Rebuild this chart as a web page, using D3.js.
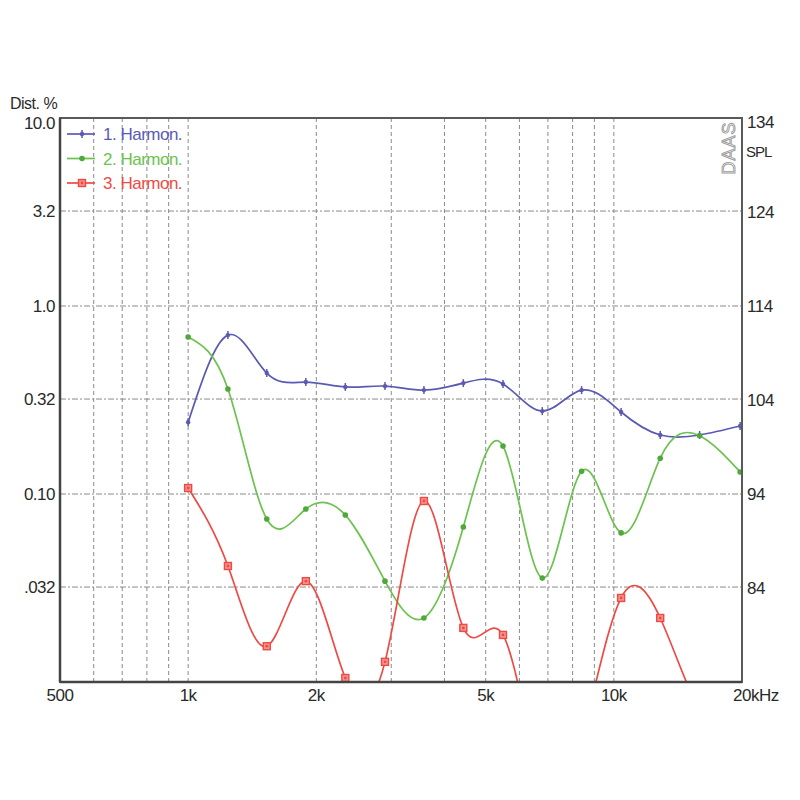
<!DOCTYPE html>
<html><head><meta charset="utf-8">
<script src="https://cdn.jsdelivr.net/npm/d3@7"></script>
<style>body{margin:0;background:#fff}svg{display:block}text{font-family:"Liberation Sans",Arial,sans-serif}</style>
</head><body>
<svg id="c" width="800" height="800"></svg>
<script>
const freqs = [1000, 1240, 1530, 1890, 2340, 2900, 3580, 4430, 5490, 6790, 8400, 10400, 12850, 15900, 19800];
const harm1 = [0.241, 0.70, 0.44, 0.394, 0.371, 0.375, 0.357, 0.389, 0.385, 0.276, 0.357, 0.273, 0.206, 0.206, 0.230];
const harm2 = [0.684, 0.362, 0.0736, 0.0832, 0.0773, 0.0344, 0.0219, 0.0667, 0.180, 0.0357, 0.132, 0.0621, 0.155, 0.204, 0.131];
const harm3 = [0.1076, 0.0414, 0.0155, 0.0344, 0.0105, 0.0128, 0.0918, 0.0194, 0.0178, 0.003, 0.005, 0.0280, 0.0219, 0.007, 0.004];
const seriesNames = ["1. Harmon.", "2. Harmon.", "3. Harmon."];
const seriesColors = ["#5a5ab4", "#6cc24e", "#ee4a44"];
const yTicks = [10, 3.2, 1.0, 0.32, 0.10, 0.032];
const yTickLabels = ["10.0", "3.2", "1.0", "0.32", "0.10", ".032"];
const splTicks = [134, 124, 114, 104, 94, 84];
const xLabelVals = [500, 1000, 2000, 5000, 10000, 20000];
const xLabels = ["500", "1k", "2k", "5k", "10k", "20kHz"];
const xGrid = [600, 700, 800, 900, 1000, 2000, 3000, 4000, 5000, 6000, 7000, 8000, 9000, 10000];

const L = 60, R = 742, T = 118, B = 682;
const FS = 17;
const svg = d3.select("#c");
const x = d3.scaleLog().domain([500, 20000]).range([L, R]);
const y = d3.scaleLog().domain([0.01, 10]).range([B, T]);
const ySpl = d3.scaleLinear().domain([74, 134]).range([B, T]);

// grid
const g = svg.append("g");
g.selectAll(".vg").data(xGrid).join("line")
  .attr("x1", d => x(d)).attr("x2", d => x(d)).attr("y1", T).attr("y2", B)
  .attr("stroke", "#8a8a8a").attr("stroke-width", 1).attr("stroke-dasharray", "4,3");
g.selectAll(".hg").data(yTicks.slice(1)).join("line")
  .attr("x1", L).attr("x2", R).attr("y1", d => y(d)).attr("y2", d => y(d))
  .attr("stroke", "#8a8a8a").attr("stroke-width", 1).attr("stroke-dasharray", "6,2,2,2");

// DAAS watermark
svg.append("text").attr("transform", `translate(735,${T + 30}) rotate(-90)`)
  .attr("text-anchor", "middle").attr("font-size", 18).attr("fill", "#fff")
  .attr("stroke", "#999").attr("stroke-width", 0.9).attr("letter-spacing", 1).text("DAAS");

// clip
svg.append("clipPath").attr("id", "pc").append("rect").attr("x", L).attr("y", T).attr("width", R - L).attr("height", B - T);

const data = [harm1, harm2, harm3];
const line = d3.line().x(d => x(d[0])).y(d => y(d[1])).curve(d3.curveNatural);
const plot = svg.append("g").attr("clip-path", "url(#pc)");

function marker(sel, i, cx, cy) {
  const c = seriesColors[i];
  if (i === 0) {
    sel.append("line").attr("x1", cx).attr("x2", cx).attr("y1", cy - 4).attr("y2", cy + 4).attr("stroke", c).attr("stroke-width", 1.5);
    sel.append("circle").attr("cx", cx).attr("cy", cy).attr("r", 2.2).attr("fill", c);
  } else if (i === 1) {
    sel.append("circle").attr("cx", cx).attr("cy", cy).attr("r", 2.8).attr("fill", "#4fa83a");
  } else {
    sel.append("rect").attr("x", cx - 3.5).attr("y", cy - 3.5).attr("width", 7).attr("height", 7)
      .attr("fill", "#f4948e").attr("stroke", c).attr("stroke-width", 1.4);
    sel.append("circle").attr("cx", cx).attr("cy", cy).attr("r", 1.4).attr("fill", c);
  }
}

data.forEach((vals, i) => {
  const pts = freqs.map((f, k) => [f, vals[k]]);
  plot.append("path").attr("d", line(pts)).attr("fill", "none")
    .attr("stroke", seriesColors[i]).attr("stroke-width", 1.7);
  const mg = plot.append("g");
  pts.forEach(p => marker(mg, i, x(p[0]), y(p[1])));
});

// frame
svg.append("rect").attr("x", L).attr("y", T).attr("width", R - L).attr("height", B - T)
  .attr("fill", "none").attr("stroke", "#5a5a5a").attr("stroke-width", 2);
svg.append("line").attr("x1", L).attr("x2", R).attr("y1", B).attr("y2", B).attr("stroke", "#444").attr("stroke-width", 2.5);
svg.append("line").attr("x1", L).attr("x2", L).attr("y1", T).attr("y2", B).attr("stroke", "#444").attr("stroke-width", 2.5);

// left labels
svg.selectAll(".yl").data(yTicks).join("text")
  .attr("x", 55).attr("y", d => Math.max(y(d), 123) + 6).attr("text-anchor", "end")
  .attr("font-size", FS).attr("fill", "#2a2a2a").attr("letter-spacing", -0.5).text((d, k) => yTickLabels[k]);
svg.append("text").attr("x", 10).attr("y", 109).attr("font-size", FS - 1).attr("fill", "#2a2a2a")
  .attr("letter-spacing", -0.5).text("Dist. %");

// right labels
svg.selectAll(".yr").data(splTicks).join("text")
  .attr("x", 747).attr("y", d => Math.max(ySpl(d), 122) + 6).attr("font-size", FS).attr("fill", "#2a2a2a")
  .attr("letter-spacing", -0.5).text(d => d);
svg.append("text").attr("x", 746).attr("y", 157).attr("font-size", 15).attr("fill", "#2a2a2a")
  .attr("letter-spacing", -1).text("SPL");

// bottom labels
svg.selectAll(".xl").data(xLabelVals).join("text")
  .attr("x", d => d === 20000 ? 733 : x(d)).attr("y", 701)
  .attr("text-anchor", d => d === 20000 ? "start" : "middle")
  .attr("font-size", FS).attr("fill", "#2a2a2a").attr("letter-spacing", -0.5).text((d, k) => xLabels[k]);

// legend
const lg = svg.append("g");
seriesNames.forEach((n, i) => {
  const ly = 134 + i * 24.5;
  lg.append("line").attr("x1", 67).attr("x2", 95).attr("y1", ly).attr("y2", ly)
    .attr("stroke", seriesColors[i]).attr("stroke-width", 1.7);
  marker(lg, i, 82, ly);
  lg.append("text").attr("x", 103).attr("y", ly + 6).attr("font-size", FS)
    .attr("letter-spacing", -0.5).attr("fill", seriesColors[i]).text(n);
});
</script>
</body></html>
